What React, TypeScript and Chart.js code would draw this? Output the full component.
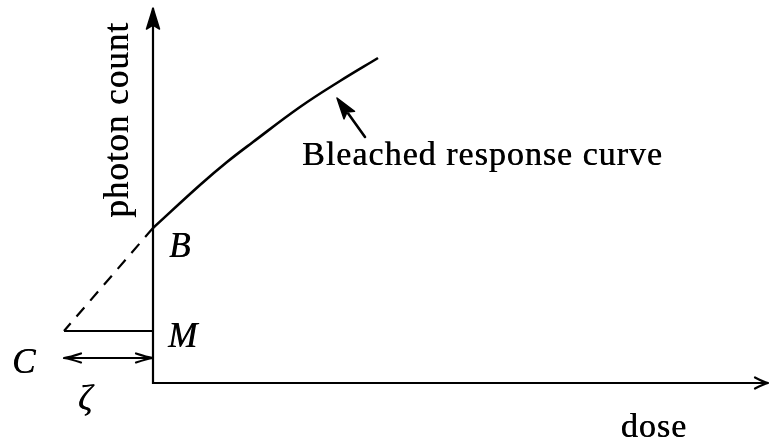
import React, { useEffect, useRef } from "react";
import { Chart, registerables } from "chart.js";

Chart.register(...registerables);

// Bleached response curve (dose, photon count), arbitrary units
const curveDose = [0, 0.47, 0.74, 1.0, 1.47, 1.87, 2.25];
const curveCount = [1.55, 1.98, 2.21, 2.41, 2.76, 3.02, 3.25];

// Key levels on the construction
const interceptB = 1.55; // where the curve meets the count axis
const levelM = 0.52; // measured unbleached level
const doseC = -0.89; // back-extrapolated dose offset
const zetaLevel = 0.25; // height of the ζ span arrow

// Axis extents
const doseAxisEnd = 6.15;
const countAxisEnd = 3.75;
const doseRange = [-1.53, 6.16];
const countRange = [-0.59, 3.83];

// Pointer from the caption to the curve
const pointerTail = [2.12, 2.46];
const pointerTip = [1.84, 2.85];

// Text
const xTitle = "dose";
const yTitle = "photon count";
const curveCaption = "Bleached response curve";
const labelB = "B";
const labelM = "M";
const labelC = "C";
const labelZeta = "ζ";

const FONT = '"Liberation Serif", "DejaVu Serif", serif';

function openHead(ctx: CanvasRenderingContext2D, tx: number, ty: number, fx: number, fy: number, len: number, half: number) {
  const a = Math.atan2(ty - fy, tx - fx);
  const c = Math.cos(a), s = Math.sin(a);
  const bx = tx - c * len, by = ty - s * len;
  ctx.beginPath();
  ctx.moveTo(bx - s * half, by + c * half);
  ctx.quadraticCurveTo(tx - c * len * 0.35 - s * half * 0.2, ty - s * len * 0.35 + c * half * 0.2, tx, ty);
  ctx.quadraticCurveTo(tx - c * len * 0.35 + s * half * 0.2, ty - s * len * 0.35 - c * half * 0.2, bx + s * half, by - c * half);
  ctx.stroke();
}

function filledHead(ctx: CanvasRenderingContext2D, tx: number, ty: number, fx: number, fy: number, len: number, half: number) {
  const a = Math.atan2(ty - fy, tx - fx);
  const c = Math.cos(a), s = Math.sin(a);
  const bx = tx - c * len, by = ty - s * len;
  const nx = tx - c * len * 0.82, ny = ty - s * len * 0.82;
  ctx.beginPath();
  ctx.moveTo(tx, ty);
  ctx.lineTo(bx - s * half, by + c * half);
  ctx.lineTo(nx, ny);
  ctx.lineTo(bx + s * half, by - c * half);
  ctx.closePath();
  ctx.fill();
  ctx.stroke();
}

// slightly heavier ink: two fills half a pixel apart
function inkText(ctx: CanvasRenderingContext2D, text: string, x: number, y: number) {
  ctx.fillText(text, x, y);
  ctx.fillText(text, x + 0.5, y);
}

const sketchPlugin = {
  id: "sketchMarks",
  afterDatasetsDraw(chart: any) {
    const { ctx } = chart;
    const xs = chart.scales.x;
    const ys = chart.scales.y;
    const px = (v: number) => xs.getPixelForValue(v);
    const py = (v: number) => ys.getPixelForValue(v);
    const x0 = px(0);
    const y0 = py(0);

    ctx.save();
    ctx.strokeStyle = "#000";
    ctx.fillStyle = "#000";
    ctx.lineCap = "round";
    ctx.lineJoin = "round";

    // axis arrowheads
    ctx.lineWidth = 1.5;
    filledHead(ctx, x0, py(countAxisEnd), x0, y0, 21, 6.5);
    ctx.lineWidth = 2.2;
    openHead(ctx, px(doseAxisEnd), y0, x0, y0, 13, 5.5);

    // ζ span arrow heads
    const yz = py(zetaLevel);
    openHead(ctx, px(doseC), yz, x0, yz, 17, 4.5);
    openHead(ctx, x0, yz, px(doseC), yz, 17, 4.5);

    // pointer to curve
    const tX = px(pointerTip[0]), tY = py(pointerTip[1]);
    const fX = px(pointerTail[0]), fY = py(pointerTail[1]);
    ctx.lineWidth = 2.6;
    ctx.beginPath();
    ctx.moveTo(fX, fY);
    ctx.lineTo(tX + (fX - tX) * 0.4, tY + (fY - tY) * 0.4);
    ctx.stroke();
    ctx.lineWidth = 1.5;
    filledHead(ctx, tX, tY, fX, fY, 21, 6.5);

    // text
    ctx.textBaseline = "alphabetic";
    ctx.font = `34px ${FONT}`;
    (ctx as any).letterSpacing = "1px";
    ctx.textAlign = "left";
    inkText(ctx, curveCaption, fX - 63, fY + 28);

    ctx.textAlign = "center";
    inkText(ctx, xTitle, px(5.01), y0 + 54);

    ctx.save();
    ctx.translate(x0 - 25, py(2.63));
    ctx.rotate(-Math.PI / 2);
    ctx.font = `35px ${FONT}`;
    inkText(ctx, yTitle, 0, 0);
    ctx.restore();

    (ctx as any).letterSpacing = "0px";
    ctx.font = `italic 35px ${FONT}`;
    ctx.textAlign = "left";
    inkText(ctx, labelB, x0 + 16, py(interceptB) + 29);
    inkText(ctx, labelM, x0 + 15, py(levelM) + 16);
    inkText(ctx, labelC, px(doseC) - 52, yz + 15);
    inkText(ctx, labelZeta, px(doseC) + 14, y0 + 27);

    ctx.restore();
  },
};

export default function App() {
  const ref = useRef<HTMLCanvasElement | null>(null);

  useEffect(() => {
    if (!ref.current) return;
    const line = (data: { x: number; y: number }[], extra: any = {}) => ({
      type: "scatter" as const,
      data,
      showLine: true,
      pointRadius: 0,
      borderColor: "#000",
      borderWidth: 2.2,
      fill: false,
      clip: false as any,
      ...extra,
    });

    const chart = new Chart(ref.current, {
      type: "scatter",
      data: {
        datasets: [
          // axes
          line([
            { x: 0, y: countAxisEnd },
            { x: 0, y: 0 },
            { x: doseAxisEnd, y: 0 },
          ]),
          // bleached response curve
          line(
            curveDose.map((d, i) => ({ x: d, y: curveCount[i] })),
            { borderWidth: 2.6, tension: 0.4 }
          ),
          // extrapolation back to C
          line(
            [
              { x: 0, y: interceptB },
              { x: doseC, y: levelM },
            ],
            { borderDash: [12, 9] }
          ),
          // level M
          line([
            { x: doseC, y: levelM },
            { x: 0, y: levelM },
          ]),
          // ζ span
          line([
            { x: doseC, y: zetaLevel },
            { x: 0, y: zetaLevel },
          ]),
        ],
      },
      options: {
        responsive: false,
        animation: false,
        layout: { padding: 0 },
        plugins: {
          legend: { display: false },
          tooltip: { enabled: false },
          title: { display: false },
        },
        scales: {
          x: { type: "linear", min: doseRange[0], max: doseRange[1], display: false },
          y: { type: "linear", min: countRange[0], max: countRange[1], display: false },
        },
      },
      plugins: [sketchPlugin],
    });

    return () => chart.destroy();
  }, []);

  return (
    <div style={{ position: "fixed", left: 0, top: 0, width: 769, height: 442, background: "#fff" }}>
      <canvas ref={ref} width={769} height={442} />
    </div>
  );
}
